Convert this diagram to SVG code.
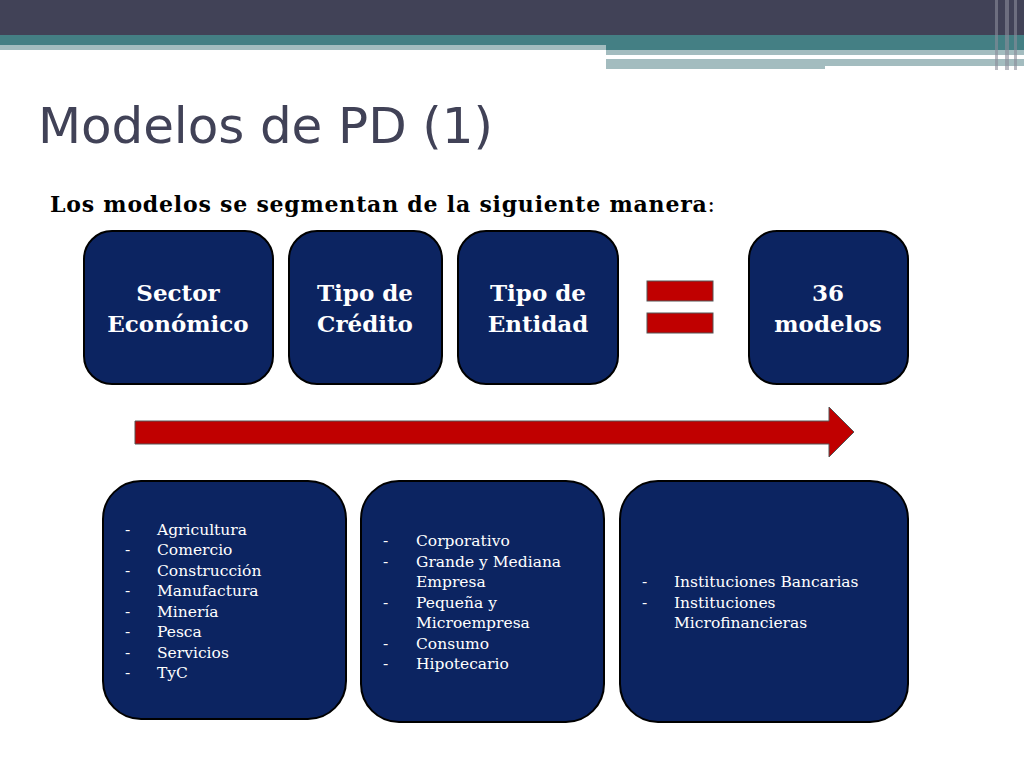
<svg xmlns="http://www.w3.org/2000/svg" width="1024" height="768" viewBox="0 0 1024 768">
<style>
.box{fill:#0c2461;stroke:#000;stroke-width:2}
.h{font-family:"DejaVu Serif",serif;font-weight:bold;font-size:23px;fill:#fff;text-anchor:middle}
.l{font-family:"DejaVu Serif",serif;font-size:15.5px;fill:#fff}
</style>
<rect width="1024" height="768" fill="#fff"/>
<rect x="0" y="0" width="1024" height="35" fill="#414257"/>
<rect x="0" y="35" width="1024" height="15" fill="#447f84"/>
<rect x="0" y="45" width="606" height="5" fill="#a3bcbf"/>
<rect x="606" y="50" width="418" height="5" fill="#a3bcbf"/>
<rect x="606" y="59" width="418" height="10" fill="#a3bcbf"/>
<rect x="825" y="66" width="200" height="4" fill="#fff"/>
<rect x="995" y="0" width="3" height="70" fill="#8a8c99" opacity="0.6"/>
<rect x="1005" y="0" width="4" height="70" fill="#8a8c99" opacity="0.6"/>
<rect x="1014" y="0" width="3" height="70" fill="#8a8c99" opacity="0.6"/>
<text x="38" y="143" font-family="DejaVu Sans,sans-serif" font-size="50" fill="#414257" textLength="455">Modelos de PD (1)</text>
<text x="50" y="212" font-family="DejaVu Serif,serif" font-size="22" font-weight="bold" fill="#000" textLength="665">Los modelos se segmentan de la siguiente manera<tspan font-weight="normal">:</tspan></text>
<g id="sector"><rect class="box" x="84" y="231" width="189" height="153" rx="28"/><text class="h" x="178" y="301">Sector</text><text class="h" x="178" y="332">Económico</text></g>
<g id="credito"><rect class="box" x="289" y="231" width="153" height="153" rx="28"/><text class="h" x="365" y="301">Tipo de</text><text class="h" x="365" y="332">Crédito</text></g>
<g id="entidad"><rect class="box" x="458" y="231" width="160" height="153" rx="28"/><text class="h" x="538" y="301">Tipo de</text><text class="h" x="538" y="332">Entidad</text></g>
<g id="igual"><rect x="647" y="281" width="66" height="20" fill="#c00000" stroke="#555"/><rect x="647" y="313" width="66" height="20" fill="#c00000" stroke="#555"/></g>
<g id="modelos"><rect class="box" x="749" y="231" width="159" height="153" rx="28"/><text class="h" x="828" y="301">36</text><text class="h" x="828" y="332">modelos</text></g>
<g id="connectors"><polygon points="135,421 829,421 829,407 854,432 829,457 829,444 135,444" fill="#c00000" stroke="#555"/></g>
<g id="lista1"><rect class="box" x="103" y="481" width="243" height="238" rx="38"/>
<g class="l"><text x="125" y="535">-</text><text x="157" y="535">Agricultura</text><text x="125" y="555">-</text><text x="157" y="555">Comercio</text><text x="125" y="576">-</text><text x="157" y="576">Construcción</text><text x="125" y="596">-</text><text x="157" y="596">Manufactura</text><text x="125" y="617">-</text><text x="157" y="617">Minería</text><text x="125" y="637">-</text><text x="157" y="637">Pesca</text><text x="125" y="658">-</text><text x="157" y="658">Servicios</text><text x="125" y="678">-</text><text x="157" y="678">TyC</text></g></g>
<g id="lista2"><rect class="box" x="361" y="481" width="243" height="241" rx="38"/>
<g class="l"><text x="383" y="546">-</text><text x="416" y="546">Corporativo</text><text x="383" y="567">-</text><text x="416" y="567">Grande y Mediana</text><text x="416" y="587">Empresa</text><text x="383" y="608">-</text><text x="416" y="608">Pequeña y</text><text x="416" y="628">Microempresa</text><text x="383" y="649">-</text><text x="416" y="649">Consumo</text><text x="383" y="669">-</text><text x="416" y="669">Hipotecario</text></g></g>
<g id="lista3"><rect class="box" x="620" y="481" width="288" height="241" rx="38"/>
<g class="l"><text x="642" y="587">-</text><text x="674" y="587">Instituciones Bancarias</text><text x="642" y="608">-</text><text x="674" y="608">Instituciones</text><text x="674" y="628">Microfinancieras</text></g></g>
</svg>
